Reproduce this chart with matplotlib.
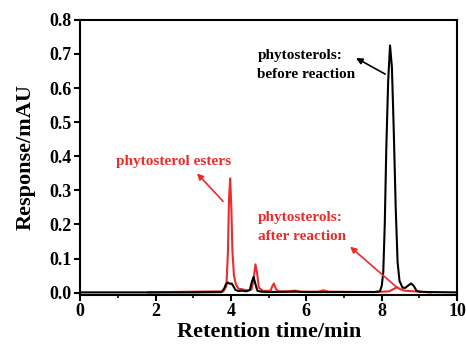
import numpy as np
import matplotlib.pyplot as plt

# chromatogram traces
black_t = [0, 3.0, 3.75, 3.82, 3.87, 3.92, 3.97, 4.02, 4.07, 4.12, 4.2, 4.3, 4.4, 4.5, 4.55, 4.6,
           4.65, 4.7, 4.8, 5.0, 5.7, 6.0, 7.8, 7.95, 8.0, 8.04, 8.08, 8.12, 8.17, 8.22, 8.27, 8.32,
           8.37, 8.42, 8.47, 8.55, 8.62, 8.7, 8.78, 8.85, 8.92, 9.0, 9.2, 10]
black_y = [0.001, 0.001, 0.002, 0.012, 0.026, 0.030, 0.026, 0.027, 0.018, 0.008, 0.005, 0.006,
           0.004, 0.008, 0.030, 0.046, 0.025, 0.006, 0.003, 0.002, 0.003, 0.002, 0.002, 0.004,
           0.020, 0.060, 0.200, 0.420, 0.620, 0.725, 0.660, 0.470, 0.250, 0.090, 0.035, 0.015,
           0.014, 0.021, 0.027, 0.020, 0.006, 0.003, 0.002, 0.001]

red_t = [1.8, 3.0, 3.8, 3.88, 3.92, 3.95, 3.98, 4.01, 4.04, 4.08, 4.13, 4.2, 4.3, 4.45, 4.55,
         4.6, 4.65, 4.69, 4.74, 4.85, 5.05, 5.1, 5.14, 5.19, 5.25, 5.5, 5.7, 5.85, 6.3, 6.45,
         6.6, 7.8, 8.2, 8.3, 8.4, 8.5, 8.6, 9.0, 9.3]
red_y = [0.001, 0.003, 0.004, 0.020, 0.120, 0.280, 0.335, 0.250, 0.120, 0.050, 0.025, 0.012,
         0.010, 0.006, 0.010, 0.040, 0.083, 0.060, 0.015, 0.005, 0.006, 0.020, 0.027, 0.012,
         0.004, 0.004, 0.006, 0.003, 0.003, 0.007, 0.003, 0.002, 0.004, 0.010, 0.016, 0.010,
         0.006, 0.003, 0.001]

red = '#ee2b2b'
plt.rcParams['font.family'] = ['Liberation Serif', 'DejaVu Serif']
plt.rcParams['font.weight'] = 'bold'

fig = plt.figure(figsize=(4.66, 3.48), dpi=100)
ax = fig.add_axes([0.172, 0.152, 0.809, 0.791])

ax.plot(red_t, red_y, color=red, lw=1.5)
ax.plot(black_t, black_y, color='black', lw=1.5)

ax.set_xlim(0, 10)
ax.set_ylim(-0.007, 0.8)
ax.set_xticks([0, 2, 4, 6, 8, 10])
ax.set_xticks([1, 3, 5, 7, 9], minor=True)
ax.set_yticks(np.arange(0, 0.81, 0.1))
ax.set_yticklabels(['%.1f' % v for v in np.arange(0, 0.81, 0.1)])
ax.tick_params(which='major', direction='out', length=4, width=1.5, labelsize=13, pad=2)
ax.tick_params(which='minor', direction='out', length=2.5, width=1.2)
for s in ax.spines.values():
    s.set_linewidth(1.5)

ax.set_xlabel('Retention time/min', fontsize=16, fontweight='bold', labelpad=1)
ax.set_ylabel('Response/mAU', fontsize=16, fontweight='bold', labelpad=10)

arrow = dict(arrowstyle='-|>', lw=1.2, mutation_scale=9, shrinkA=0, shrinkB=0)

ax.text(4.7, 0.63, 'phytosterols:\nbefore reaction', fontsize=11, fontweight='bold',
        color='black', linespacing=1.6)
ax.annotate('', xy=(7.32, 0.688), xytext=(8.09, 0.641), arrowprops=dict(arrow, color='black'))

ax.text(0.95, 0.375, 'phytosterol esters', fontsize=11, fontweight='bold', color=red)
ax.annotate('', xy=(3.10, 0.35), xytext=(3.79, 0.268), arrowprops=dict(arrow, color=red))

ax.text(4.72, 0.155, 'phytosterols:\nafter reaction', fontsize=11, fontweight='bold',
        color=red, linespacing=1.55)
ax.annotate('', xy=(7.16, 0.135), xytext=(8.41, 0.015), arrowprops=dict(arrow, color=red))

fig.savefig('out.png', dpi=100)
